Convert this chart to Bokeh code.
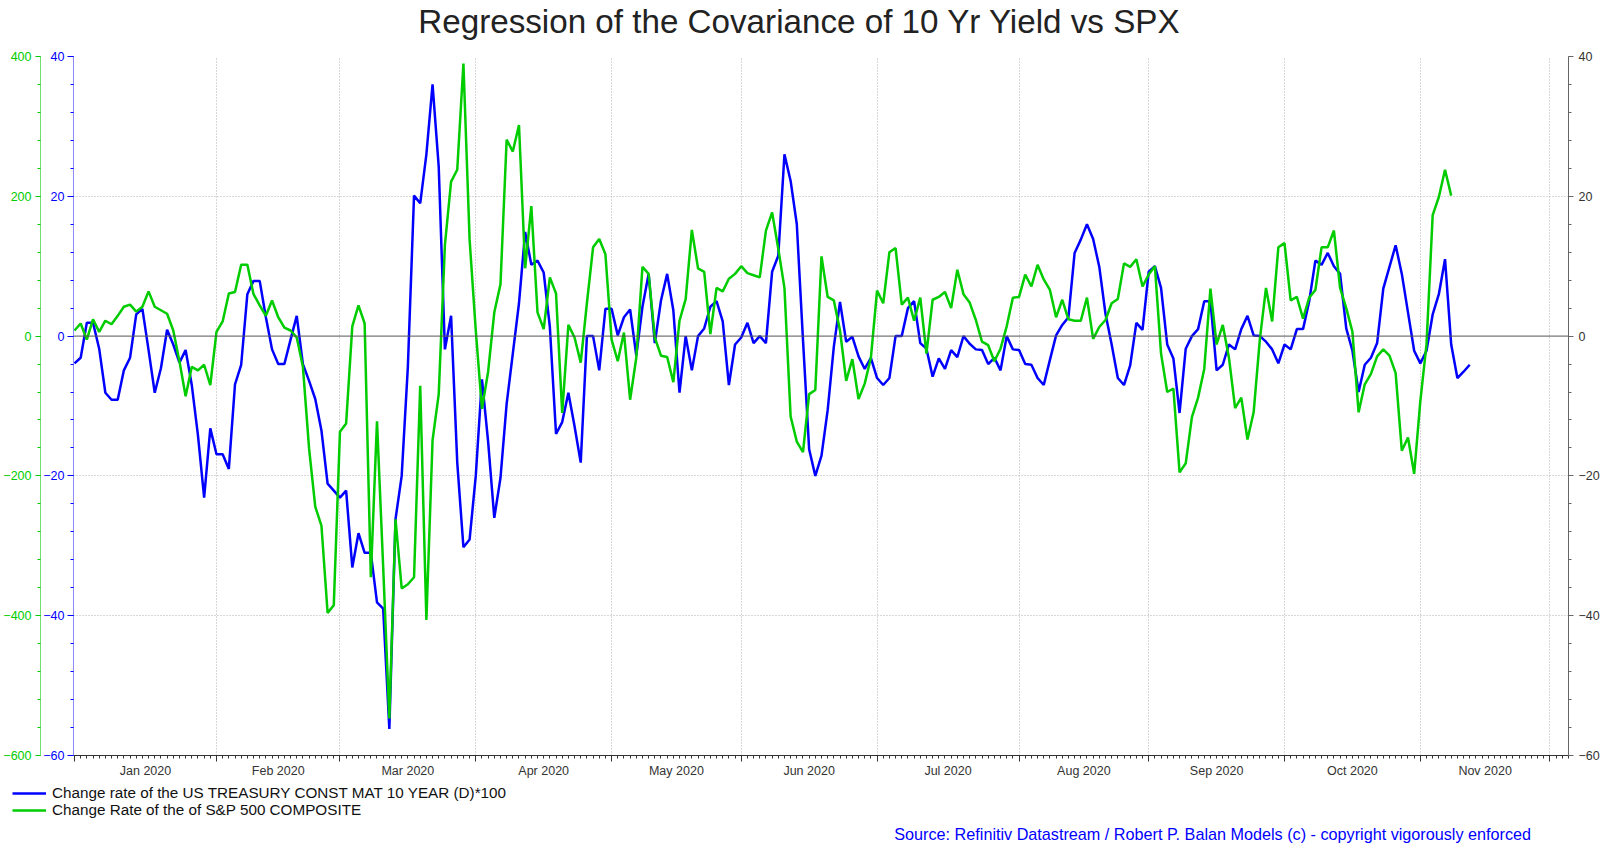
from bokeh.plotting import figure
from bokeh.layouts import column
from bokeh.models import Range1d, LinearAxis, FixedTicker, Span, Legend, LegendItem, Label
from bokeh.embed import file_html
from bokeh.resources import INLINE

# ---------------- data ----------------
month_labels = ["Jan 2020", "Feb 2020", "Mar 2020", "Apr 2020", "May 2020", "Jun 2020",
                "Jul 2020", "Aug 2020", "Sep 2020", "Oct 2020", "Nov 2020"]
# index (in weekdays from 1 Jan 2020) of the first weekday of each month, Jan..Dec
month_starts = [0, 23, 43, 65, 87, 108, 130, 153, 174, 196, 218, 239]
n_weekdays = 242

# Change rate of 10Y yield *100 (daily, weekdays)
blue_values = [
    -3.9, -3.1, 1.9, 1.9, -1.8, -8.1, -9.1, -9.1, -4.9, -3.1, 3.1, 3.9, -2.0, -8.1, -4.6, 0.9,
    -1.2, -3.8, -2.0, -7.0, -14.2, -23.1, -13.2, -16.9, -16.9, -19.0, -6.9, -4.1, 6.0, 7.9,
    7.9, 2.7, -1.9, -4.0, -4.0, -0.5, 2.9, -4.0, -6.4, -9.0, -13.5, -21.1, -22.1, -23.1, -22.1,
    -33.1, -28.2, -31.0, -31.0, -38.1, -39.0, -56.2, -26.2, -20.0, -4.4, 20.1, 19.0, 26.0, 36.0,
    24.2, -1.9, 2.9, -18.1, -30.2, -29.1, -20.0, -6.2, -15.1, -26.0, -20.3, -9.7, -2.5, 4.7,
    14.9, 10.2, 10.8, 9.1, 1.3, -14.0, -12.3, -8.1, -12.9, -18.1, 0.0, 0.0, -4.9, 3.9, 3.9,
    0.1, 2.7, 3.8, -2.8, 4.2, 8.9, -1.0, 5.1, 8.9, 3.7, -8.1, 0.0, -4.9, 0.0, 1.1, 4.2, 5.0,
    2.1, -7.0, -1.2, -0.2, 1.9, -1.0, 0.0, -1.0, 9.2, 11.5, 26.0, 22.2, 16.0, -0.5, -16.2,
    -20.0, -17.1, -10.6, -1.5, 4.9, -0.8, -0.1, -2.9, -4.7, -3.1, -6.0, -7.0, -6.0, 0.0, 0.0,
    4.0, 5.0, -1.0, -1.8, -5.8, -3.2, -4.7, -2.0, -3.0, 0.0, -1.1, -1.9, -2.0, -4.0, -3.1,
    -4.9, 0.0, -1.9, -2.0, -4.0, -4.1, -6.0, -7.0, -3.4, 0.1, 1.6, 2.7, 11.9, 13.8, 16.0,
    13.9, 9.9, 3.2, -1.2, -6.0, -7.0, -4.2, 1.9, 0.9, 9.2, 10.0, 6.9, -1.2, -3.2, -11.0,
    -1.8, 0.0, 1.0, 5.0, 5.0, -4.9, -4.1, -1.2, -1.9, 1.0, 2.9, 0.1, 0.0, -0.8, -1.9, -3.9,
    -1.2, -1.9, 1.0, 1.0, 5.0, 10.8, 10.2, 11.9, 10.0, 8.9, 1.1, -2.1, -8.0, -4.1, -3.1,
    -1.0, 6.8, 9.9, 13.0, 8.9, 3.4, -2.1, -3.9, -2.1, 3.1, 6.0, 11.0, -1.2, -6.0, -5.1, -4.1,
]

# Change rate of S&P 500 composite (daily, weekdays)
green_values = [
    8, 18, -5, 24, 6, 22, 17, 29, 42, 45, 35, 42, 64, 42, 37, 32, 8, -36, -86, -44, -49, -41,
    -70, 6, 21, 61, 63, 102, 102, 60, 44, 29, 51, 27, 12, 8, -2, -44, -161, -244, -271, -396,
    -385, -137, -125, 14, 44, 18, -345, -122, -330, -547, -262, -361, -355, -345, -71, -406,
    -149, -83, 130, 221, 238, 390, 138, 8, -104, -51, 34, 74, 281, 264, 302, 97, 186, 34, 10,
    84, 61, -110, 16, -2, -38, 47, 127, 139, 117, -5, -36, 5, -91, -31, 99, 89, -2, -28, -30,
    -66, 22, 53, 152, 97, 92, 3, 69, 64, 82, 89, 100, 90, 87, 84, 151, 177, 125, 69, -115,
    -151, -166, -83, -77, 114, 56, 51, 8, -64, -33, -90, -68, -31, 65, 47, 120, 126, 45, 55,
    22, 55, -25, 52, 56, 63, 40, 95, 60, 48, 23, -8, -13, -36, -18, 14, 55, 56, 88, 71, 102,
    81, 66, 27, 52, 24, 22, 22, 55, -4, 13, 23, 47, 53, 104, 99, 110, 71, 88, 100, -25, -80,
    -75, -195, -182, -116, -88, -47, 68, -12, 16, -31, -103, -88, -148, -109, -5, 69, 21, 127,
    133, 51, 56, 25, 55, 66, 127, 127, 151, 69, 40, 6, -109, -69, -54, -29, -19, -28, -53,
    -164, -145, -197, -93, -12, 173, 199, 238, 201,
]

blue_ticks = [-60, -40, -20, 0, 20, 40]
green_ticks = [-600, -400, -200, 0, 200, 400]

legend_labels = ["Change rate of the US TREASURY CONST MAT 10 YEAR (D)*100",
                 "Change Rate of the of S&P 500 COMPOSITE"]
title_text = "Regression of the Covariance of 10 Yr Yield vs SPX"
source_text = "Source: Refinitiv Datastream /  Robert P. Balan Models (c) - copyright vigorously enforced"

# ---------------- styling constants ----------------
FONT = "Liberation Sans"
BLUE = "#0000ff"
GREEN = "#00cc00"
W = 1604
HEADER_H = 48
MAIN_H = 732
FOOTER_H = 80


def no_align(f):
    try:
        f.frame_align = False
    except AttributeError:
        pass


def blank(height):
    f = figure(width=W, height=height, output_backend="svg", toolbar_location=None,
               title=None, x_axis_type=None, y_axis_type=None, min_border=0,
               x_range=Range1d(0, W), y_range=Range1d(height, 0))
    f.outline_line_color = None
    f.background_fill_color = "white"
    f.border_fill_color = "white"
    f.grid.visible = False
    no_align(f)
    return f


# ---------------- header (title) ----------------
header = blank(HEADER_H)
header.add_layout(Label(x=799, y=21, text=title_text, text_align="center",
                        text_baseline="alphabetic", text_font=FONT, text_font_size="33.2px",
                        text_color="#222222"))

# ---------------- main chart ----------------
p = figure(width=W, height=MAIN_H, output_backend="svg", toolbar_location=None,
           x_range=Range1d(-0.16, 242.0), y_range=Range1d(-60, 40),
           min_border_left=71, min_border_right=36, min_border_top=8, min_border_bottom=24)
no_align(p)
p.extra_y_ranges = {"green": Range1d(-600, 400)}
p.outline_line_color = None
p.background_fill_color = "white"
p.border_fill_color = "white"

# grids
p.ygrid.ticker = FixedTicker(ticks=[-40, -20, 20, 40])
p.ygrid.grid_line_color = "#b0b0b0"
p.ygrid.grid_line_dash = "1 2"
p.xgrid.ticker = FixedTicker(ticks=month_starts[1:])
p.xgrid.grid_line_color = "#b0b0b0"
p.xgrid.grid_line_dash = "1 2"
p.add_layout(Span(location=0, dimension="width", line_color="#555555", line_width=1))

# blue (inner left) axis
yb = p.yaxis[0]
yb.ticker = FixedTicker(ticks=blue_ticks, minor_ticks=list(range(-60, 41, 4)))
yb.axis_line_color = "#8c8cff"
yb.major_tick_line_color = BLUE
yb.minor_tick_line_color = BLUE
yb.major_tick_out = 6
yb.major_tick_in = 0
yb.minor_tick_out = 3
yb.minor_tick_in = 0
yb.major_label_text_color = BLUE
yb.major_label_text_font = FONT
yb.major_label_text_font_size = "12.5px"
yb.major_label_standoff = 3

# green (outer left) axis
yg = LinearAxis(y_range_name="green",
                ticker=FixedTicker(ticks=green_ticks, minor_ticks=list(range(-600, 401, 40))))
yg.axis_line_color = "#70e070"
yg.major_tick_line_color = GREEN
yg.minor_tick_line_color = GREEN
yg.major_tick_out = 5
yg.major_tick_in = 0
yg.minor_tick_out = 3
yg.minor_tick_in = 0
yg.major_label_text_color = GREEN
yg.major_label_text_font = FONT
yg.major_label_text_font_size = "12.5px"
yg.major_label_standoff = 4
p.add_layout(yg, "left")

# right axis
yr = LinearAxis(ticker=FixedTicker(ticks=blue_ticks, minor_ticks=list(range(-60, 41, 4))))
yr.axis_line_color = "#666666"
yr.major_tick_line_color = "#666666"
yr.minor_tick_line_color = "#666666"
yr.major_tick_out = 5
yr.major_tick_in = 0
yr.minor_tick_out = 3
yr.minor_tick_in = 0
yr.major_label_text_color = "#333333"
yr.major_label_text_font = FONT
yr.major_label_text_font_size = "12.5px"
yr.major_label_standoff = 5
p.add_layout(yr, "right")

# x axis: ticks (month starts major, weekdays minor)
xa = p.xaxis[0]
xa.ticker = FixedTicker(ticks=month_starts, minor_ticks=list(range(0, n_weekdays + 1)))
xa.axis_line_color = "#333333"
xa.major_tick_line_color = "#333333"
xa.minor_tick_line_color = "#333333"
xa.major_tick_out = 6
xa.major_tick_in = 0
xa.minor_tick_out = 3
xa.minor_tick_in = 0
xa.major_label_overrides = {m: "" for m in month_starts}
xa.major_label_text_font_size = "0px"
xa.major_label_standoff = 0

# x axis: month labels centred in each month
centers = [(month_starts[k] + month_starts[k + 1]) / 2 for k in range(len(month_labels))]
xl = LinearAxis(ticker=FixedTicker(ticks=centers, minor_ticks=[]),
                major_label_overrides={c: lab for c, lab in zip(centers, month_labels)})
xl.axis_line_color = None
xl.major_tick_line_color = None
xl.minor_tick_line_color = None
xl.major_tick_out = 0
xl.major_tick_in = 0
xl.major_label_standoff = 2
xl.major_label_text_font = FONT
xl.major_label_text_font_size = "12.5px"
xl.major_label_text_color = "#333333"
p.add_layout(xl, "below")

# series
x_blue = list(range(len(blue_values)))
x_green = list(range(len(green_values)))
r_blue = p.line(x_blue, blue_values, line_color=BLUE, line_width=2.5)
r_green = p.line(x_green, green_values, line_color=GREEN, line_width=2.5, y_range_name="green")

# ---------------- footer (legend + source) ----------------
footer = blank(FOOTER_H)
# legend proxies: the same series, mapped onto a range that lies outside the footer frame
footer.extra_y_ranges = {"off": Range1d(1000, 1001)}
lb = footer.line(x_blue, blue_values, line_color=BLUE, line_width=2.5, y_range_name="off")
lg = footer.line(x_green, green_values, line_color=GREEN, line_width=2.5, y_range_name="off")
legend = Legend(items=[LegendItem(label=legend_labels[0], renderers=[lb]),
                       LegendItem(label=legend_labels[1], renderers=[lg])],
                location=(12, FOOTER_H - 38), padding=0, margin=0, spacing=0,
                glyph_width=34, glyph_height=16, label_height=16, label_standoff=6,
                label_text_font=FONT, label_text_font_size="15.25px", label_text_color="#111111",
                border_line_color=None, background_fill_alpha=0)
footer.add_layout(legend)
footer.add_layout(Label(x=1535, y=53, text=source_text, text_align="right",
                        text_baseline="middle", text_font=FONT, text_font_size="16.2px",
                        text_color=BLUE))

layout = column(header, p, footer, spacing=0)
open("out.html", "w").write(file_html(layout, INLINE))
